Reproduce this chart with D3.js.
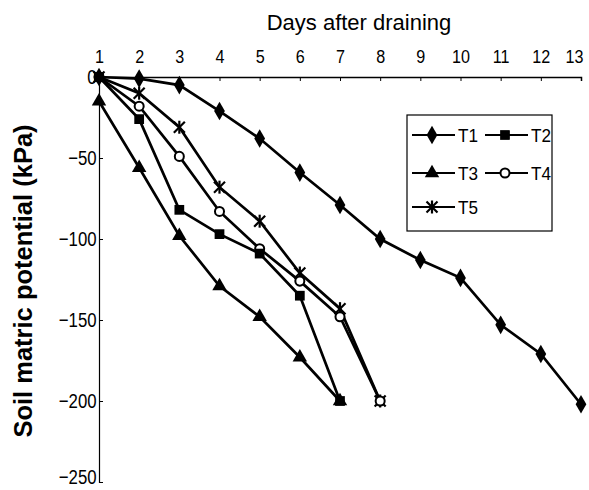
<!DOCTYPE html>
<html>
<head>
<meta charset="utf-8">
<script src="https://cdn.jsdelivr.net/npm/d3@7"></script>
<style>
  html, body { margin: 0; padding: 0; background: #fff; }
  svg { display: block; }
  .tick text { fill: #000; }
</style>
</head>
<body>
<script>
// Soil matric potential (kPa) after draining, five treatments
const days = [1, 2, 3, 4, 5, 6, 7, 8, 9, 10, 11, 12, 13];
const t1 = [0, -1, -5, -21, -38, -59, -79, -100, -113, -124, -153, -171, -202];
const t2 = [0, -26, -82, -97, -109, -135, -200];
const t3 = [-15, -56, -98, -129, -148, -173, -200];
const t4 = [0, -18, -49, -83, -106, -126, -148, -200];
const t5 = [0, -10, -31, -68, -89, -121, -143, -200];
const seriesNames = ["T1", "T2", "T3", "T4", "T5"];
const yTicks = [0, -50, -100, -150, -200, -250];

const W = 589, H = 490;
const svg = d3.select("body").append("svg").attr("width", W).attr("height", H);

const x = d3.scaleLinear().domain([1, 13]).range([99, 581]);
const y = d3.scaleLinear().domain([0, -250]).range([77, 482]);

const tickFont = "'Liberation Sans', Arial, sans-serif";

// top x axis, ticks pointing into the plot
const gx = svg.append("g").attr("transform", `translate(0,${y(0)})`)
  .call(d3.axisTop(x).tickValues(days).tickSize(-4).tickPadding(14).tickFormat(d3.format("d")));
gx.select(".domain").attr("stroke", "#000").attr("stroke-width", 1.5);
gx.selectAll(".tick line").attr("stroke", "#000").attr("stroke-width", 1);
gx.selectAll(".tick text")
  .style("font-family", tickFont).style("font-size", "19px")
  .attr("transform", d => d === 13 ? "translate(-7,0) scale(0.85,1)" : "scale(0.85,1)");

// left y axis
const gy = svg.append("g").attr("transform", `translate(${x(1)},0)`)
  .call(d3.axisLeft(y).tickValues(yTicks).tickSize(-4).tickPadding(3).tickFormat(d3.format("d")));
gy.select(".domain").attr("stroke", "#000").attr("stroke-width", 1.2);
gy.selectAll(".tick line").attr("stroke", "#000").attr("stroke-width", 1);
gy.selectAll(".tick text")
  .style("font-family", tickFont).style("font-size", "21px")
  .attr("transform", d => d === -250 ? "translate(0,-5) scale(0.8,1)" : "scale(0.8,1)");

// axis titles
svg.append("text").attr("x", 359).attr("y", 30).attr("text-anchor", "middle")
  .style("font-family", "'Liberation Sans', Arial, sans-serif").style("font-size", "22px")
  .text("Days after draining");
svg.append("text").attr("transform", "translate(32,281) rotate(-90)").attr("text-anchor", "middle")
  .style("font-family", "'Liberation Sans', Arial, sans-serif").style("font-size", "25.5px")
  .style("font-weight", "bold").text("Soil matric potential (kPa)");

// marker drawing
const sym = {
  T1: d3.symbol().type(d3.symbolDiamond).size(100),
  T2: d3.symbol().type(d3.symbolSquare).size(95),
  T3: d3.symbol().type(d3.symbolTriangle).size(90),
  T4: d3.symbol().type(d3.symbolCircle).size(64)
};
function drawMarker(g, name, cx, cy) {
  if (name === "T5") {
    const r = 5.5;
    const m = g.append("g").attr("transform", `translate(${cx},${cy})`)
      .attr("stroke", "#000").attr("stroke-width", 2.2);
    m.append("line").attr("x1", -r).attr("y1", -r).attr("x2", r).attr("y2", r);
    m.append("line").attr("x1", -r).attr("y1", r).attr("x2", r).attr("y2", -r);
    m.append("line").attr("x1", 0).attr("y1", -r - 1).attr("x2", 0).attr("y2", r + 1);
  } else if (name === "T4") {
    g.append("path").attr("d", sym.T4()).attr("transform", `translate(${cx},${cy})`)
      .attr("fill", "#fff").attr("stroke", "#000").attr("stroke-width", 2);
  } else {
    g.append("path").attr("d", sym[name]()).attr("transform", `translate(${cx},${cy})`)
      .attr("fill", "#000");
  }
}

const seriesValues = { T1: t1, T2: t2, T3: t3, T4: t4, T5: t5 };
const line = d3.line().x(d => x(d.day)).y(d => y(d.v));
const plot = svg.append("g");
const order = seriesNames.slice().reverse();
order.forEach(name => {
  const pts = seriesValues[name].map((v, i) => ({ day: days[i], v }));
  plot.append("path").datum(pts).attr("d", line)
    .attr("fill", "none").attr("stroke", "#000").attr("stroke-width", 2.7);
});
order.forEach(name => {
  seriesValues[name].forEach((v, i) => drawMarker(plot, name, x(days[i]), y(v)));
});

// legend
const lg = svg.append("g");
lg.append("rect").attr("x", 407).attr("y", 115).attr("width", 145).attr("height", 116)
  .attr("fill", "#fff").attr("stroke", "#000").attr("stroke-width", 1.2);
const legendPos = [
  { n: "T1", x: 412, y: 135 }, { n: "T2", x: 485, y: 135 },
  { n: "T3", x: 412, y: 173 }, { n: "T4", x: 485, y: 173 },
  { n: "T5", x: 412, y: 207 }
];
legendPos.forEach(p => {
  lg.append("line").attr("x1", p.x).attr("x2", p.x + 43).attr("y1", p.y).attr("y2", p.y)
    .attr("stroke", "#000").attr("stroke-width", 2);
  drawMarker(lg, p.n, p.x + 20, p.y);
  lg.append("text").attr("x", p.x + 46).attr("y", p.y + 7)
    .style("font-family", "'Liberation Sans', Arial, sans-serif").style("font-size", "19px")
    .attr("textLength", 20).attr("lengthAdjust", "spacingAndGlyphs")
    .text(p.n);
});
</script>
</body>
</html>
